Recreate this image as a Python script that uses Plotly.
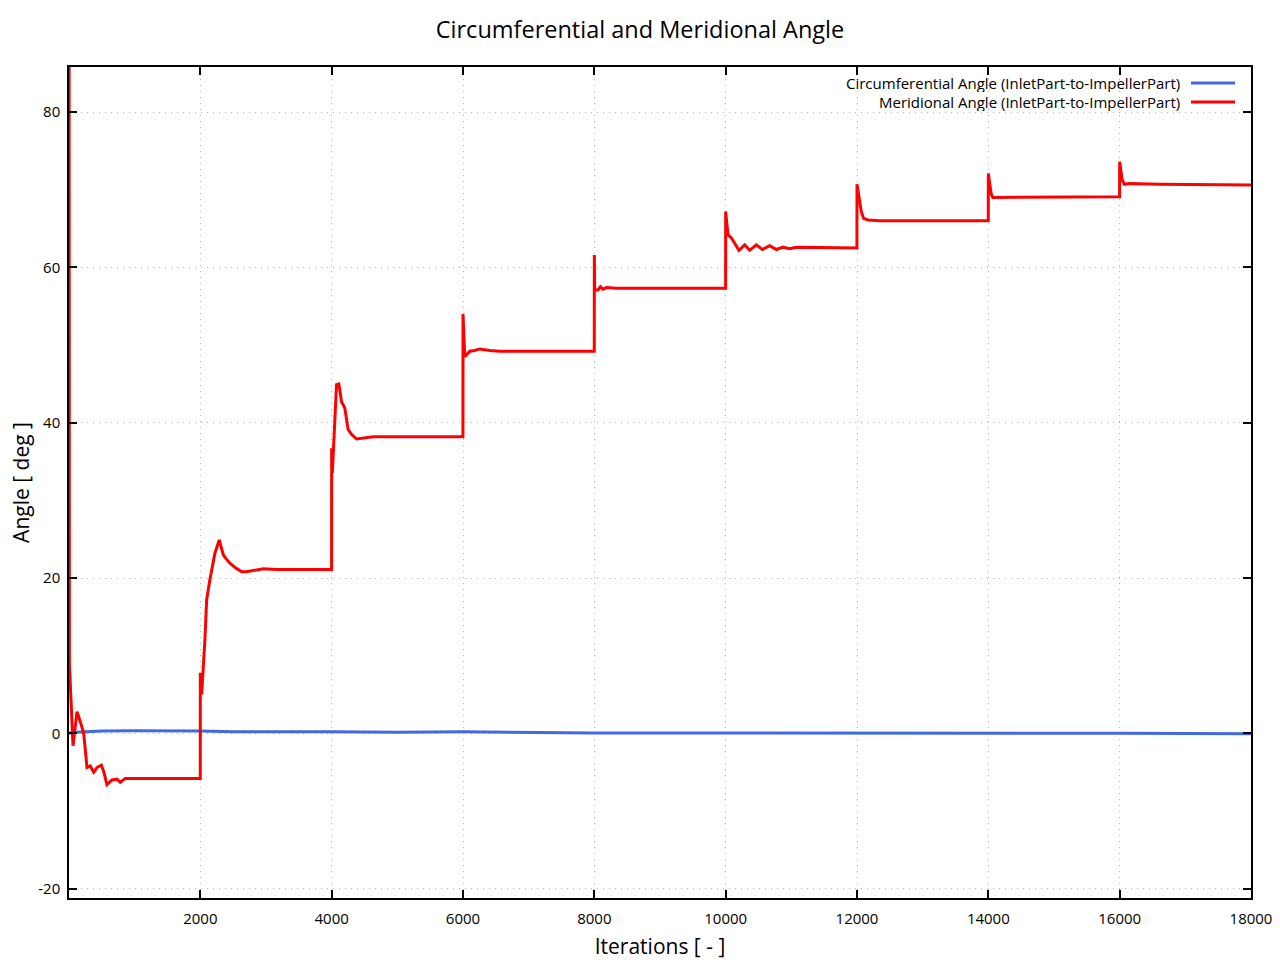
import plotly.graph_objects as go

# ---- data ----
red_iter = [0, 6, 61, 122, 172, 224, 274, 324, 376, 426, 492, 528, 578, 654, 731, 781, 857, 1999,
            2000, 2020, 2070, 2096, 2146, 2181, 2222, 2288, 2320, 2349, 2400, 2450, 2540, 2629, 2700, 2755, 2958, 3161, 3999,
            4000, 4010, 4074, 4110, 4150, 4200, 4251, 4303, 4379, 4479, 4631, 5999,
            6000, 6027, 6103, 6179, 6255, 6407, 6560, 7999,
            8000, 8006, 8056, 8093, 8133, 8184, 8336, 9999,
            10000, 10035, 10087, 10137, 10203, 10290, 10366, 10467, 10559, 10670, 10772, 10873, 10975, 11077, 11999,
            12000, 12039, 12065, 12100, 12166, 12344, 13999,
            14000, 14043, 14068, 15999,
            16000, 16037, 16072, 16148, 16605, 18000]
red_angle = [120, 9, -1.6, 2.8, 1.5, 0.0, -4.4, -4.2, -5.0, -4.4, -4.1, -4.9, -6.6, -6.0, -5.9, -6.3, -5.8, -5.8,
             7.8, 5.0, 12.1, 17.2, 19.8, 21.5, 23.2, 24.9, 24.0, 23.0, 22.4, 21.9, 21.3, 20.8, 20.8, 20.9, 21.2, 21.1, 21.1,
             36.7, 33.5, 44.9, 45.0, 42.7, 41.9, 39.1, 38.5, 37.9, 38.0, 38.2, 38.2,
             54.0, 48.5, 49.2, 49.3, 49.5, 49.3, 49.2, 49.2,
             61.6, 57.1, 57.1, 57.5, 57.2, 57.4, 57.3, 57.3,
             67.2, 64.2, 63.8, 63.1, 62.2, 62.9, 62.2, 62.9, 62.3, 62.8, 62.3, 62.6, 62.4, 62.6, 62.5,
             70.7, 68.5, 67.2, 66.3, 66.1, 66.0, 66.0,
             72.1, 69.5, 69.0, 69.1,
             73.6, 71.3, 70.7, 70.8, 70.7, 70.6]

blue_iter = [0, 100, 500, 1000, 2000, 2500, 4000, 5000, 6000, 7000, 8000, 10000, 12000, 14000, 16000, 18000]
blue_angle = [0.0, 0.15, 0.3, 0.35, 0.3, 0.2, 0.2, 0.15, 0.2, 0.1, 0.05, 0.05, 0.05, 0.0, 0.0, -0.05]

x_ticks = [2000, 4000, 6000, 8000, 10000, 12000, 14000, 16000, 18000]
x_tick_labels = ["2000", "4000", "6000", "8000", "10000", "12000", "14000", "16000", "18000"]
y_ticks = [-20, 0, 20, 40, 60, 80]
y_tick_labels = ["-20", "0", "20", "40", "60", "80"]

series_names = ["Circumferential Angle (InletPart-to-ImpellerPart)",
                "Meridional Angle (InletPart-to-ImpellerPart)"]
series_colors = ["#4169e1", "#ff0000"]

assert len(red_iter) == len(red_angle)

FONT = "Open Sans"

fig = go.Figure()
fig.add_trace(go.Scatter(x=blue_iter, y=blue_angle, mode="lines", name=series_names[0],
                         line=dict(color=series_colors[0], width=3), showlegend=False))
fig.add_trace(go.Scatter(x=red_iter, y=red_angle, mode="lines", name=series_names[1],
                         line=dict(color=series_colors[1], width=3), showlegend=False))

axis_common = dict(showline=True, linecolor="black", linewidth=1.5, mirror="ticks",
                   ticks="inside", ticklen=8, tickwidth=1.5, tickcolor="black",
                   showgrid=True, gridcolor="#b4b4b4", griddash="1px,5px", gridwidth=1,
                   zeroline=False, automargin=False,
                   tickfont=dict(size=15, color="black", family=FONT))

fig.update_xaxes(range=[0, 18000], tickvals=x_ticks, ticktext=x_tick_labels, ticklabelstandoff=6,
                 title=dict(text="Iterations [ - ]", font=dict(size=21, color="black", family=FONT), standoff=13),
                 **axis_common)
fig.update_yaxes(range=[-21.2, 85.8], tickvals=y_ticks, ticktext=y_tick_labels, ticklabelstandoff=4,
                 title=dict(text="Angle [ deg ]", font=dict(size=21, color="black", family=FONT), standoff=3),
                 **axis_common)

# legend drawn gnuplot-style: text right-aligned, line sample on the right
leg_y = [0.9807, 0.9579]
for name, col, yy in zip(series_names, series_colors, leg_y):
    fig.add_annotation(xref="paper", yref="paper", x=0.9408, y=yy, text=name, showarrow=False,
                       xanchor="right", yanchor="middle", height=18, borderpad=0,
                       font=dict(size=15, color="black", family=FONT))
    fig.add_shape(type="line", xref="paper", yref="paper", x0=0.9492, x1=0.9865, y0=yy, y1=yy,
                  line=dict(color=col, width=3))

fig.update_layout(
    width=1280, height=960,
    margin=dict(l=69, r=29, t=67, b=62),
    paper_bgcolor="white", plot_bgcolor="white",
    title=dict(text="Circumferential and Meridional Angle", x=0.5, xanchor="center",
               y=1 - 30 / 960, yanchor="middle", font=dict(size=23.5, color="black", family=FONT)),
    font=dict(family=FONT, color="black"),
    showlegend=False,
)

fig.write_html("out.html", config={"displayModeBar": False},
               post_script="document.body.style.margin='0';")
